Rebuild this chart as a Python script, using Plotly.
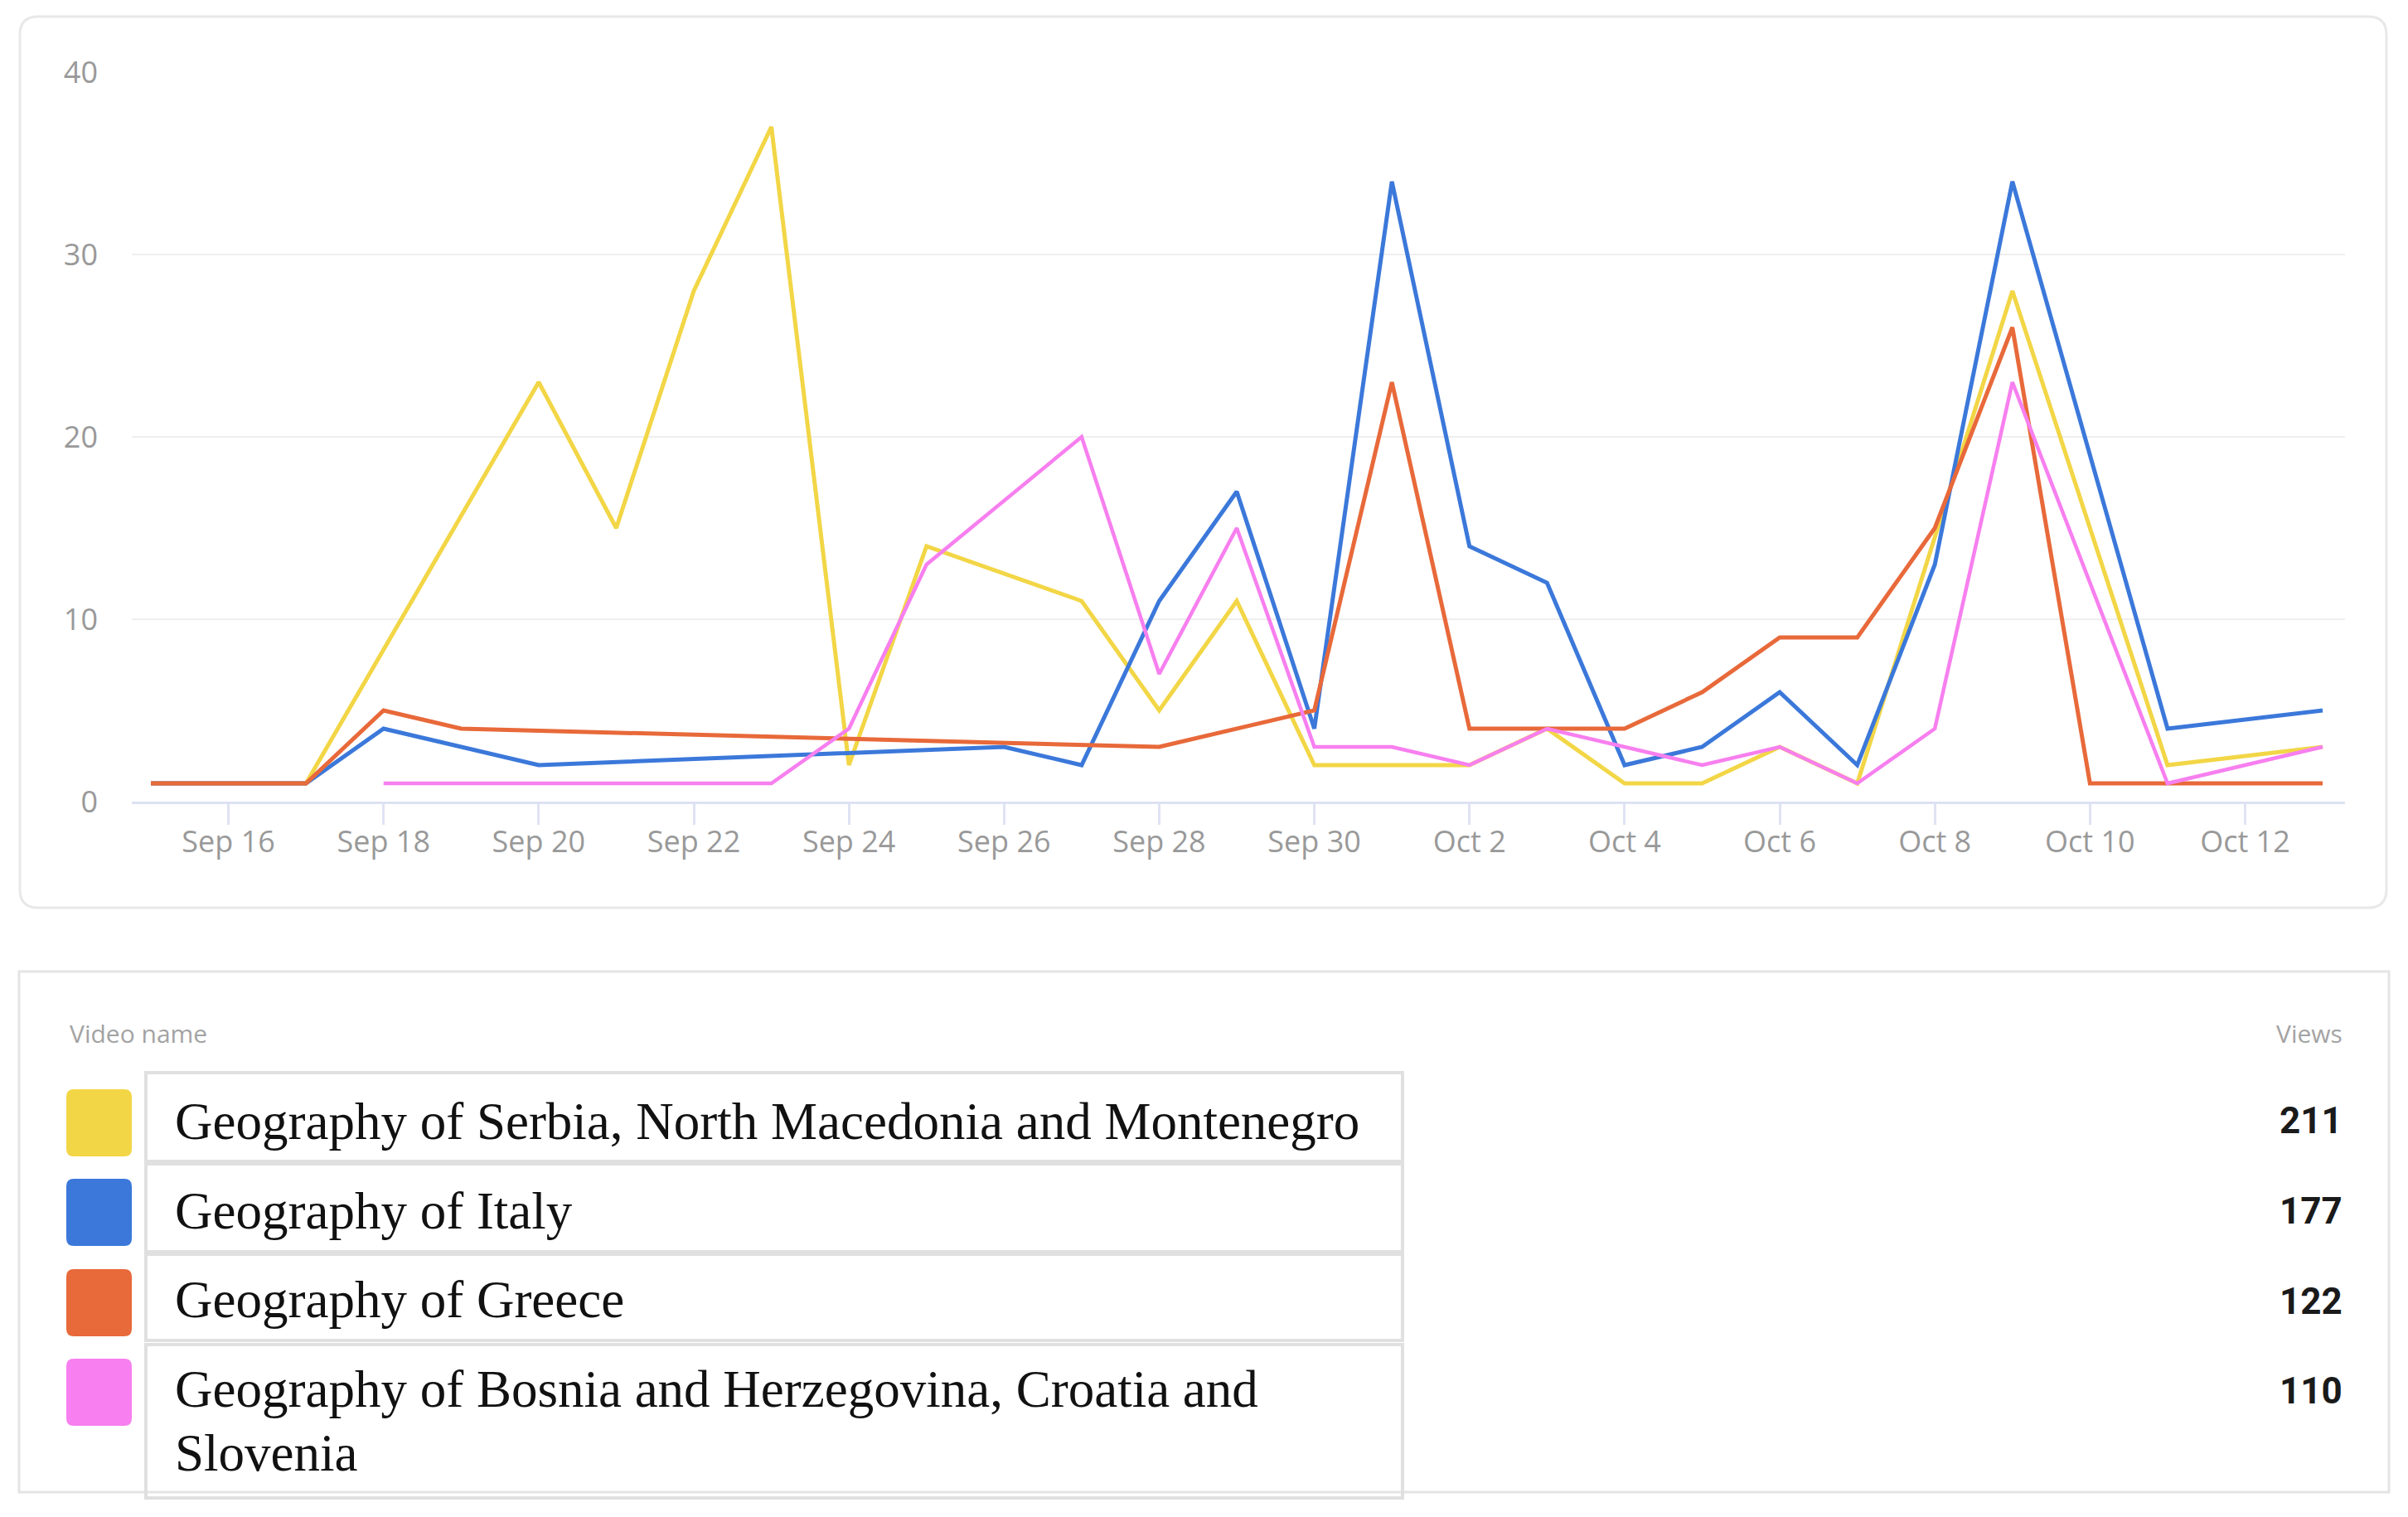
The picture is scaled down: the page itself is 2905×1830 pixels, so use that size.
import pandas as pd
import plotly.graph_objects as go

# daily views, Sep 15 .. Oct 13 (None = no point, line joins across)
dates = pd.date_range("2022-09-15", "2022-10-13", freq="D")

serbia = [1, 1, 1, None, None, 23, 15, 28, 37, 2, 14, None, 11, 5, 11,
          2, 2, 2, 4, 1, 1, 3, 1, None, 28, None, 2, None, 3]
italy = [1, 1, 1, 4, 3, 2, None, None, None, None, None, 3, 2, 11, 17,
         4, 34, 14, 12, 2, 3, 6, 2, 13, 34, None, 4, None, 5]
greece = [1, 1, 1, 5, 4, None, None, None, None, None, None, None, None, 3, 4,
          5, 23, 4, 4, 4, 6, 9, 9, 15, 26, 1, 1, 1, 1]
bosnia = [None, None, None, 1, 1, 1, 1, 1, 1, 4, 13, None, 20, 7, 15,
          3, 3, 2, 4, 3, 2, 3, 1, 4, 23, None, 1, None, 3]

names = [
    "Geography of Serbia, North Macedonia and Montenegro",
    "Geography of Italy",
    "Geography of Greece",
    "Geography of Bosnia and Herzegovina, Croatia and<br>Slovenia",
]
views = [211, 177, 122, 110]
colors = ["#F2D646", "#3B78DA", "#E8693A", "#F77FEF"]
series = [serbia, italy, greece, bosnia]

# page is 2905x1830, body margin 8px
W, H = 2889, 1814


def px(X):
    return (X - 8) / W


def py(Y):
    return 1 - (Y - 8) / H


def rounded(x0, y0, x1, y1, r):
    pts = [
        ("M", [(x0 + r, y0)]), ("L", [(x1 - r, y0)]), ("Q", [(x1, y0), (x1, y0 + r)]),
        ("L", [(x1, y1 - r)]), ("Q", [(x1, y1), (x1 - r, y1)]),
        ("L", [(x0 + r, y1)]), ("Q", [(x0, y1), (x0, y1 - r)]),
        ("L", [(x0, y0 + r)]), ("Q", [(x0, y0), (x0 + r, y0)]),
    ]
    s = ""
    for cmd, ps in pts:
        s += cmd + " " + " ".join(f"{px(a):.6f},{py(b):.6f}" for a, b in ps) + " "
    return s + "Z"


fig = go.Figure()
for vals, col in zip(series, colors):
    fig.add_trace(go.Scatter(
        x=dates, y=vals, mode="lines", connectgaps=True,
        line=dict(color=col, width=4.5 if col == "#F77FEF" else 5),
        hoverinfo="skip",
    ))

shapes = []
# chart card
shapes.append(dict(type="path", xref="paper", yref="paper", layer="below",
                   path=rounded(24, 20, 2879, 1095, 22),
                   line=dict(color="#e8e8e8", width=3), fillcolor="white"))
# table card
shapes.append(dict(type="rect", xref="paper", yref="paper", layer="below",
                   x0=px(23), x1=px(2882), y0=py(1172), y1=py(1800),
                   line=dict(color="#e4e4e4", width=3), fillcolor="white"))

row_tops = [1294, 1404, 1513, 1622]
row_bots = [1401, 1510, 1617, 1807]
sw_tops = [1314, 1422, 1531, 1639]
text_mid = [1353, 1461, 1568, 1676]
line_gap = 77
num_mid = [1352, 1461, 1570, 1678]

annotations = [
    dict(text="Video name", x=px(82), y=py(1246), xanchor="left", yanchor="middle",
         font=dict(family="Open Sans", size=30, color="#a3a3a3")),
    dict(text="Views", x=px(2828), y=py(1246), xanchor="right", yanchor="middle",
         font=dict(family="Open Sans", size=30, color="#a3a3a3")),
]
for i in range(len(names)):
    shapes.append(dict(type="rect", xref="paper", yref="paper", layer="above",
                       x0=px(176), x1=px(1692), y0=py(row_tops[i]), y1=py(row_bots[i]),
                       line=dict(color="#e0e0e0", width=4)))
    shapes.append(dict(type="path", xref="paper", yref="paper", layer="above",
                       path=rounded(80, sw_tops[i], 159, sw_tops[i] + 81, 9),
                       line=dict(width=0), fillcolor=colors[i]))
    for k, part in enumerate(names[i].split("<br>")):
        annotations.append(dict(text=part, x=px(209), y=py(text_mid[i] + k * line_gap),
                                xanchor="left", yanchor="middle", align="left",
                                font=dict(family="Liberation Serif, Times New Roman, serif",
                                          size=63, color="#111111")))
    annotations.append(dict(text=f"<b>{views[i]}</b>", x=px(2828), y=py(num_mid[i]),
                            xanchor="right", yanchor="middle",
                            font=dict(family="Roboto, Arial", size=44, color="#1a1a1a")))

for a in annotations:
    a.update(xref="paper", yref="paper", showarrow=False)

fig.update_layout(
    width=W, height=H,
    margin=dict(l=0, r=0, t=0, b=0, autoexpand=False),
    paper_bgcolor="white", plot_bgcolor="rgba(0,0,0,0)",
    showlegend=False,
    shapes=shapes, annotations=annotations,
    xaxis=dict(
        domain=[px(159), px(2829)], automargin=False,
        range=["2022-09-14 18:06", "2022-10-13 06:55"],
        tick0="2022-09-16", dtick=2 * 86400000, tickformat="%b %-d",
        showgrid=False, showline=True, linecolor="#dce1f3", linewidth=3,
        ticks="outside", ticklen=25, tickwidth=3, tickcolor="#dfe3f3",
        ticklabelstandoff=-10,
        tickfont=dict(family="Open Sans", size=36, color="#999999"),
        zeroline=False,
    ),
    yaxis=dict(
        domain=[py(967), py(87)], automargin=False,
        range=[0, 40], dtick=10,
        showgrid=True, gridcolor="#eeeeee", gridwidth=2,
        zeroline=False, showline=False, ticks="",
        ticklabelstandoff=40,
        tickfont=dict(family="Open Sans", size=36, color="#999999"),
    ),
)

fig.write_html("out.html")
